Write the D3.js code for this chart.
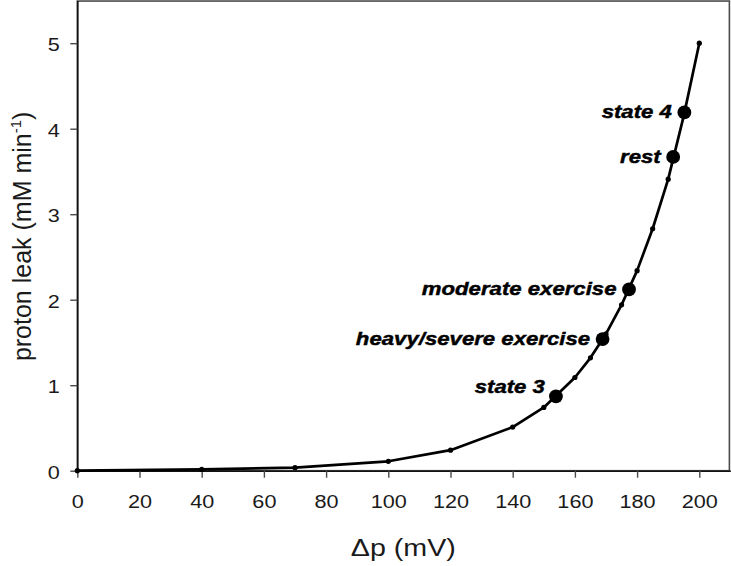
<!DOCTYPE html>
<html>
<head>
<meta charset="utf-8">
<script src="https://cdn.jsdelivr.net/npm/d3@7/dist/d3.min.js"></script>
<style>
  html, body { margin: 0; padding: 0; background: #fff; }
  svg { display: block; font-family: "Liberation Sans", Arial, Helvetica, sans-serif; }
</style>
</head>
<body>
<svg id="chart" width="731" height="566"></svg>
<script>
// ---- data ----
const xTickValues = [0, 20, 40, 60, 80, 100, 120, 140, 160, 180, 200];
const yTickValues = [0, 1, 2, 3, 4, 5];

// curve (small markers)
const deltaP = [0, 40, 70, 100, 120, 140, 150, 160, 165, 170, 175, 180, 185, 190, 195, 200];
const protonLeak = [0, 0.015, 0.035, 0.11, 0.24, 0.51, 0.74, 1.09, 1.32, 1.6, 1.94, 2.34, 2.83, 3.41, 4.15, 5.0];

// labelled states (large markers)
const stateNames = ["state 3", "heavy/severe exercise", "moderate exercise", "rest", "state 4"];
const stateDeltaP = [153.9, 168.9, 177.4, 191.6, 195.2];
const stateLeak = [0.87, 1.54, 2.12, 3.67, 4.19];

const xTitle = "\u0394p (mV)";
const yTitle = "proton leak (mM min";
const yTitleSup = "-1";

// ---- layout ----
const svg = d3.select("#chart");
const plotLeft = 77.3, plotRight = 730.4, plotTop = 0.45, plotBottom = 470.7;
const stretch = 1.18;
const tickStretch = 1.14;

const x = d3.scaleLinear().domain([0, 210]).range([plotLeft, plotRight]);
const y = d3.scaleLinear().domain([0, 5.5]).range([plotBottom, plotTop]);

const frameColor = "#4a4a4a";
const textColor = "#1a1a1a";

// frame
svg.append("rect")
  .attr("x", x(0)).attr("y", y(5.5) + 0.6)
  .attr("width", x(210) - x(0) - 1).attr("height", y(0) - y(5.5) - 0.6)
  .attr("fill", "none").attr("stroke", frameColor).attr("stroke-width", 1.6);

// x axis
const xAxis = svg.append("g")
  .attr("transform", `translate(0,${plotBottom})`)
  .call(d3.axisBottom(x).tickValues(xTickValues).tickSizeInner(7).tickSizeOuter(0).tickPadding(4).tickFormat(d3.format("d")));
xAxis.select(".domain").attr("stroke", "#111").attr("stroke-width", 1.6);
xAxis.selectAll(".tick line").attr("stroke", frameColor).attr("stroke-width", 1.4);
xAxis.selectAll(".tick text").remove();
xAxis.selectAll(".tick").append("g")
  .attr("transform", `translate(0,37) scale(${tickStretch},1)`)
  .append("text")
  .attr("text-anchor", "middle")
  .attr("fill", textColor)
  .attr("font-size", 19)
  .text(d => d);

// y axis
const yAxis = svg.append("g")
  .attr("transform", `translate(${plotLeft},0)`)
  .call(d3.axisLeft(y).tickValues(yTickValues).tickSizeInner(7).tickSizeOuter(0).tickPadding(4).tickFormat(d3.format("d")));
yAxis.select(".domain").attr("stroke", "#111").attr("stroke-width", 1.6);
yAxis.selectAll(".tick line").attr("stroke", frameColor).attr("stroke-width", 1.4);
yAxis.selectAll(".tick text").remove();
yAxis.selectAll(".tick").append("g")
  .attr("transform", `translate(-17.5,7.4) scale(${tickStretch},1)`)
  .append("text")
  .attr("text-anchor", "end")
  .attr("fill", textColor)
  .attr("font-size", 19)
  .text(d => d);

// axis titles
svg.append("g")
  .attr("transform", `translate(${(x(0) + x(200)) / 2 + 15},556) scale(1.17,1)`)
  .append("text")
  .attr("text-anchor", "middle")
  .attr("fill", textColor)
  .attr("font-size", 24.5)
  .text(xTitle);

const yt = svg.append("text")
  .attr("transform", `translate(31,${plotBottom / 2 + 1}) rotate(-90)`)
  .attr("text-anchor", "middle")
  .attr("fill", textColor)
  .attr("font-size", 25);
yt.append("tspan").text(yTitle);
yt.append("tspan").attr("font-size", 15).attr("dy", -10).text(yTitleSup);
yt.append("tspan").attr("dy", 10).text(")");

// curve
const pts = deltaP.map((d, i) => [d, protonLeak[i]]);
const line = d3.line().x(d => x(d[0])).y(d => y(d[1]));
svg.append("path")
  .attr("d", line(pts))
  .attr("fill", "none").attr("stroke", "#000").attr("stroke-width", 2.7)
  .attr("stroke-linejoin", "round");

svg.append("g").selectAll("circle")
  .data(pts).join("circle")
  .attr("cx", d => x(d[0])).attr("cy", d => y(d[1]))
  .attr("r", 2.6).attr("fill", "#000");

// states
const states = stateNames.map((n, i) => ({ name: n, dp: stateDeltaP[i], leak: stateLeak[i] }));
svg.append("g").selectAll("circle")
  .data(states).join("circle")
  .attr("cx", d => x(d.dp)).attr("cy", d => y(d.leak))
  .attr("r", 6.9).attr("fill", "#000");

svg.append("g").selectAll("g")
  .data(states).join("g")
  .attr("transform", d => {
    const above = d.name === "state 3";
    const tx = x(d.dp) - (above ? 11 : 12.5);
    const ty = y(d.leak) + (above ? -10 : -1);
    return `translate(${tx},${ty}) scale(${stretch},1)`;
  })
  .append("text")
  .attr("text-anchor", "end")
  .attr("dominant-baseline", "central")
  .attr("fill", "#000")
  .attr("stroke", "#000")
  .attr("stroke-width", 0.45)
  .attr("font-size", 18.8)
  .attr("font-weight", "bold")
  .attr("font-style", "italic")
  .text(d => d.name);
</script>
</body>
</html>
